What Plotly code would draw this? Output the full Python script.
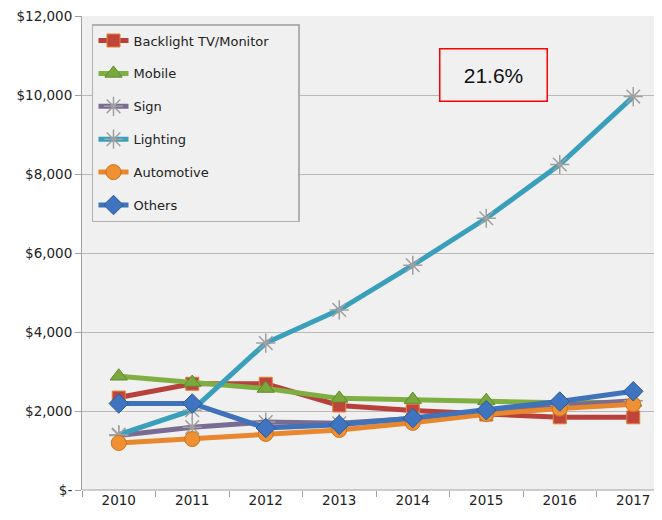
import plotly.graph_objects as go

years = ["2010", "2011", "2012", "2013", "2014", "2015", "2016", "2017"]
backlight = [2340, 2690, 2690, 2140, 2010, 1910, 1840, 1840]
mobile = [2880, 2720, 2570, 2320, 2290, 2260, 2210, 2220]
sign = [1380, 1590, 1720, 1690, 1810, 1990, 2140, 2260]
lighting = [1400, 2020, 3720, 4560, 5690, 6880, 8240, 9960]
automotive = [1190, 1290, 1420, 1520, 1700, 1920, 2060, 2170]
others = [2190, 2190, 1570, 1650, 1820, 2020, 2240, 2500]

y_ticks = [0, 2000, 4000, 6000, 8000, 10000, 12000]
y_tick_text = ["$-", "$2,000", "$4,000", "$6,000", "$8,000", "$10,000", "$12,000"]
cagr_label = "21.6%"

x = list(range(len(years)))

series = [
    ("Backlight TV/Monitor" + "\u00a0" * 6, backlight, "#b7403b", dict(symbol="square", size=13, color="#c0443c", line=dict(color="#e0832f", width=1))),
    ("Mobile", mobile, "#7fae42", dict(symbol="triangle-up", size=15, color="#7aa83c", line=dict(color="#5d8a2c", width=1))),
    ("Sign", sign, "#7a6b92", dict(symbol="asterisk-open", size=16, color="#a0a0a0", line=dict(color="#a0a0a0", width=1.5))),
    ("Lighting", lighting, "#3a9fbb", dict(symbol="asterisk-open", size=16, color="#a0a0a0", line=dict(color="#a0a0a0", width=1.5))),
    ("Automotive", automotive, "#e8872e", dict(symbol="circle", size=15, color="#ef9032", line=dict(color="#c8741e", width=1))),
    ("Others", others, "#3f72b9", dict(symbol="diamond", size=15, color="#3f74c0", line=dict(color="#2c5a9a", width=1))),
]

fig = go.Figure()
for name, vals, col, mk in series:
    fig.add_trace(go.Scatter(
        x=x, y=vals, name=name, mode="lines+markers",
        line=dict(color=col, width=5),
        marker=mk, legendgroup=name,
    ))

fig.add_annotation(
    x=0.70, y=0.876, xref="paper", yref="paper",
    xanchor="center", yanchor="middle",
    text=cagr_label, showarrow=False,
    font=dict(family="Liberation Sans, Arial", size=21, color="#111111"),
    bordercolor="#ff0000", borderwidth=1.5, borderpad=14,
    bgcolor="#f0f0f0", width=78,
)

fig.update_layout(
    width=662, height=520,
    margin=dict(l=74, r=0, t=8, b=38, autoexpand=False),
    paper_bgcolor="#ffffff",
    plot_bgcolor="#f0f0f0",
    font=dict(family="DejaVu Sans, Verdana", size=13, color="#222222"),
    showlegend=True,
    legend=dict(
        x=0.017, y=0.983, xanchor="left", yanchor="top",
        bgcolor="#f0f0f0", bordercolor="#b0b0b0", borderwidth=1.5,
        font=dict(family="DejaVu Sans, Verdana", size=13, color="#222222"),
        tracegroupgap=13, itemwidth=30,
    ),
    xaxis=dict(
        range=[-0.5, 7.5], automargin=False,
        tickmode="array", tickvals=x, ticktext=years,
        ticks="", showgrid=False, zeroline=False,
        showline=False,
        tickfont=dict(size=13.5, color="#222222"),
        minor=dict(tickmode="array", tickvals=[i - 0.5 for i in range(9)],
                   ticks="outside", ticklen=6, tickcolor="#a0a0a0", showgrid=False),
    ),
    yaxis=dict(
        range=[0, 12000], automargin=False,
        tickmode="array", tickvals=y_ticks, ticktext=y_tick_text,
        ticks="outside", ticklen=6, tickcolor="#a0a0a0",
        showgrid=True, gridcolor="#b8b8b8", gridwidth=1,
        zeroline=False, showline=True, linecolor="#a0a0a0", linewidth=1,
        tickfont=dict(size=13.5, color="#222222"),
        ticklabeloverflow="allow",
    ),
)

fig.add_shape(type="line", xref="paper", yref="paper", x0=0, x1=1, y0=0, y1=0,
              line=dict(color="#a0a0a0", width=1))

fig.write_html("out.html")
